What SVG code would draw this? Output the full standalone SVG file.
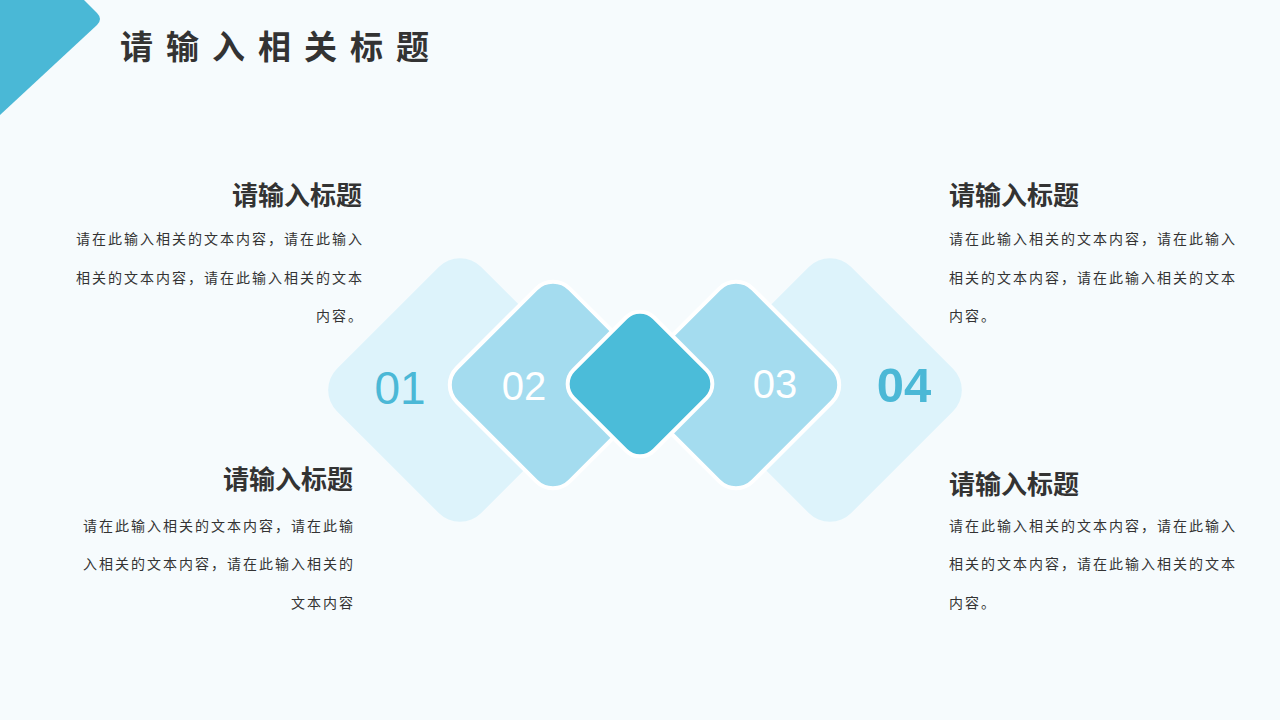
<svg xmlns="http://www.w3.org/2000/svg" width="1280" height="720" viewBox="0 0 1280 720">
  <style>
    .title { font-family: "Liberation Serif", "Noto Sans CJK SC", serif; font-weight: bold; fill: #333333; }
    .head { font-family: "Liberation Serif", "Noto Sans CJK SC", serif; font-weight: bold; font-size: 26px; fill: #333333; }
    .body { font-family: "Liberation Serif", "Noto Sans CJK SC", serif; font-size: 14px; letter-spacing: 2px; fill: #333333; }
    .num { font-family: "Liberation Sans", Arial, sans-serif; text-anchor: middle; }
    .light { fill: #ddf3fb; }
    .mid { fill: #a4dcef; stroke: #ffffff; stroke-width: 4; }
    .dark { fill: #4bbcd9; stroke: #ffffff; stroke-width: 4; }
  </style>
  <rect width="1280" height="720" fill="#f6fbfd"/>
  <g id="corner">
    <path d="M0 0 L84 0 L97 13 Q103 19 97 25 L0 115 Z" fill="#4ab8d6"/>
  </g>
  <g id="page-title">
    <text class="title" x="120" y="59" font-size="33" letter-spacing="13">请输入相关标题</text>
  </g>
  <g id="diamond-01">
    <rect class="light" x="-102" y="-102" width="204" height="204" rx="30" transform="translate(460 390) rotate(45)"/>
  </g>
  <g id="diamond-04">
    <rect class="light" x="-102" y="-102" width="204" height="204" rx="30" transform="translate(830 390) rotate(45)"/>
  </g>
  <g id="diamond-02">
    <rect class="mid" x="-80" y="-80" width="160" height="160" rx="24" transform="translate(553 385) rotate(45)"/>
  </g>
  <g id="diamond-03">
    <rect class="mid" x="-80" y="-80" width="160" height="160" rx="24" transform="translate(736 385) rotate(45)"/>
  </g>
  <g id="diamond-center">
    <rect class="dark" x="-57" y="-57" width="114" height="114" rx="20" transform="translate(640 384) rotate(45)"/>
  </g>
  <g id="numbers">
    <text class="num" x="400" y="404" font-size="46" fill="#4bb8d6">01</text>
    <text class="num" x="524" y="400" font-size="40" fill="#ffffff">02</text>
    <text class="num" x="775" y="398" font-size="40" fill="#ffffff">03</text>
    <text class="num" x="904" y="402" font-size="49" font-weight="bold" fill="#4bb8d6">04</text>
  </g>
  <g id="block-top-left">
    <text class="head" x="362" y="205" text-anchor="end">请输入标题</text>
    <text class="body" x="364" y="244" text-anchor="end">请在此输入相关的文本内容，请在此输入</text>
    <text class="body" x="364" y="283" text-anchor="end">相关的文本内容，请在此输入相关的文本</text>
    <text class="body" x="364" y="321" text-anchor="end">内容。</text>
  </g>
  <g id="block-bottom-left">
    <text class="head" x="353" y="489" text-anchor="end">请输入标题</text>
    <text class="body" x="355" y="531" text-anchor="end">请在此输入相关的文本内容，请在此输</text>
    <text class="body" x="355" y="569" text-anchor="end">入相关的文本内容，请在此输入相关的</text>
    <text class="body" x="355" y="608" text-anchor="end">文本内容</text>
  </g>
  <g id="block-top-right">
    <text class="head" x="949" y="205">请输入标题</text>
    <text class="body" x="949" y="244">请在此输入相关的文本内容，请在此输入</text>
    <text class="body" x="949" y="283">相关的文本内容，请在此输入相关的文本</text>
    <text class="body" x="949" y="321">内容。</text>
  </g>
  <g id="block-bottom-right">
    <text class="head" x="949" y="494">请输入标题</text>
    <text class="body" x="949" y="531">请在此输入相关的文本内容，请在此输入</text>
    <text class="body" x="949" y="569">相关的文本内容，请在此输入相关的文本</text>
    <text class="body" x="949" y="608">内容。</text>
  </g>
</svg>
